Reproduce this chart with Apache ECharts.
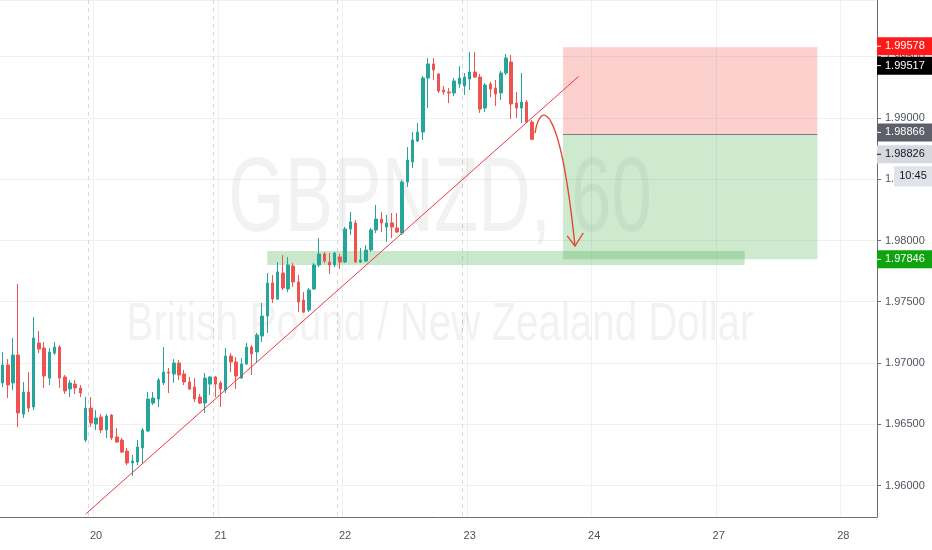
<!DOCTYPE html>
<html lang="en">
<head>
    <meta charset="UTF-8">
    <title>GBPNZD, 60</title>
    <script src="https://cdn.jsdelivr.net/npm/echarts@6/dist/echarts.min.js"></script>
    <style>
        html, body { margin: 0; padding: 0; background: #fff; }
        #main { width: 932px; height: 550px; }
    </style>
</head>
<body>
<div id="main"></div>
<script>
    // hourly slots, weekend removed (24 -> 27 is one day)
    var slotCount = 169;
    var dayIdx = [18, 42, 66, 90, 114, 138, 162];
    var dayLabels = ['20', '21', '22', '23', '24', '27', '28'];
    var sessionIdx = [17, 41, 65, 89];

    // OHLC
    var opens = [1.96837,1.96984,1.96837,1.97065,1.96583,1.96763,1.96641,1.97163,1.97122,1.96877,
        1.97081,1.97130,1.96886,1.96788,1.96828,1.96796,1.96371,1.96632,1.96502,1.96559,
        1.96453,1.96575,1.96396,1.96371,1.96281,1.96184,1.96192,1.96306,1.96445,1.96673,
        1.96706,1.96837,1.96926,1.96910,1.97000,1.96910,1.96845,1.96804,1.96722,1.96673,
        1.96828,1.96886,1.96837,1.96779,1.97057,1.97008,1.96877,1.96992,1.97130,1.97090,
        1.97220,1.97383,1.97653,1.97522,1.97735,1.97604,1.97792,1.97661,1.97514,1.97432,
        1.97604,1.97800,1.97890,1.97824,1.97800,1.97865,1.97824,1.98094,1.98143,1.97824,
        1.97832,1.97922,1.98086,1.98175,1.98110,1.98143,1.98102,1.98061,1.98477,1.98641,
        1.98812,1.98885,1.99326,1.99441,1.99359,1.99228,1.99212,1.99204,1.99277,1.99261,
        1.99318,1.99375,1.99334,1.99081,1.99277,1.99245,1.99204,1.99367,1.99457,1.99122,
        1.99081,1.99130,1.98967];
    var closes = [1.96984,1.96820,1.97065,1.96592,1.96763,1.96632,1.97204,1.97114,1.96894,1.97090,
        1.97130,1.96877,1.96771,1.96837,1.96796,1.96755,1.96632,1.96510,1.96551,1.96453,
        1.96567,1.96388,1.96355,1.96273,1.96184,1.96200,1.96314,1.96453,1.96706,1.96714,
        1.96861,1.96926,1.96918,1.97000,1.96902,1.96845,1.96788,1.96706,1.96673,1.96877,
        1.96886,1.96828,1.96788,1.97057,1.97008,1.96894,1.96992,1.97130,1.97073,1.97228,
        1.97383,1.97653,1.97522,1.97743,1.97612,1.97800,1.97661,1.97498,1.97416,1.97596,
        1.97800,1.97890,1.97832,1.97800,1.97898,1.97824,1.98094,1.98151,1.97824,1.97841,
        1.97922,1.98086,1.98175,1.98143,1.98143,1.98110,1.98069,1.98477,1.98657,1.98820,
        1.98885,1.99326,1.99441,1.99392,1.99220,1.99212,1.99204,1.99302,1.99326,1.99334,
        1.99375,1.99334,1.99073,1.99269,1.99236,1.99196,1.99367,1.99490,1.99114,1.99081,
        1.99130,1.98967,1.98826];
    var lows = [1.96804,1.96714,1.96779,1.96477,1.96551,1.96600,1.96616,1.97081,1.96796,1.96820,
        1.97065,1.96796,1.96747,1.96722,1.96747,1.96722,1.96355,1.96477,1.96453,1.96428,
        1.96388,1.96371,1.96347,1.96265,1.96167,1.96077,1.96167,1.96175,1.96437,1.96657,
        1.96641,1.96820,1.96755,1.96837,1.96861,1.96820,1.96779,1.96681,1.96665,1.96592,
        1.96739,1.96722,1.96641,1.96755,1.96926,1.96788,1.96869,1.96984,1.96902,1.97008,
        1.97171,1.97245,1.97490,1.97514,1.97596,1.97579,1.97620,1.97416,1.97408,1.97416,
        1.97596,1.97783,1.97816,1.97726,1.97783,1.97767,1.97816,1.98045,1.97816,1.97816,
        1.97824,1.97906,1.98061,1.98069,1.97988,1.98020,1.98061,1.98045,1.98437,1.98592,
        1.98804,1.98820,1.99081,1.99310,1.99204,1.99188,1.99122,1.99179,1.99245,1.99188,
        1.99228,1.99326,1.99041,1.99049,1.99171,1.99098,1.99147,1.99351,1.98992,1.99000,
        1.98959,1.98959,1.98820];
    var highs = [1.97090,1.97032,1.97204,1.97645,1.96845,1.96926,1.97375,1.97261,1.97171,1.97122,
        1.97171,1.97147,1.96902,1.96861,1.96861,1.96820,1.96722,1.96722,1.96616,1.96583,
        1.96583,1.96583,1.96469,1.96388,1.96306,1.96249,1.96371,1.96469,1.96763,1.96763,
        1.96877,1.97130,1.96959,1.97032,1.97024,1.96943,1.96886,1.96877,1.96747,1.96918,
        1.96894,1.96894,1.96853,1.97122,1.97081,1.97049,1.97041,1.97163,1.97147,1.97245,
        1.97490,1.97735,1.97718,1.97824,1.97881,1.97865,1.97816,1.97718,1.97579,1.97612,
        1.97816,1.98020,1.97906,1.97898,1.97906,1.97890,1.98110,1.98232,1.98167,1.97939,
        1.97963,1.98102,1.98290,1.98232,1.98208,1.98224,1.98224,1.98494,1.98763,1.98885,
        1.98959,1.99343,1.99490,1.99490,1.99367,1.99261,1.99245,1.99326,1.99424,1.99367,
        1.99539,1.99539,1.99359,1.99285,1.99294,1.99310,1.99383,1.99522,1.99514,1.99212,
        1.99367,1.99147,1.98983];

    // drawings
    var stopPrice = 1.99578;
    var entryPrice = 1.98866;
    var targetPrice = 1.97846;
    var levelPrice = 1.99517;
    var lastPrice = 1.98826;
    var zoneTop = 1.97914, zoneBottom = 1.97800;
    var trendStart = [16, 1.95767], trendEnd = [111, 1.99339];
    var arrowPath = [[102.6, 1.98877], [103.6, 1.99147], [107.4, 1.99147], [110.3, 1.97955]];
    var arrowHead = [[108.8, 1.98037], [110.3, 1.97955], [111.9, 1.98061]];

    var slots = [];
    for (var i = 0; i < slotCount; i++) slots.push('h' + i);
    var candles = opens.map(function (o, k) { return [o, closes[k], lows[k], highs[k]]; });

    function isDay(i) { return dayIdx.indexOf(i) >= 0; }
    var axisColor = '#6a6d78';
    var labelColor = '#50535e';
    var gridColor = '#eef0f4';

    var chart = echarts.init(document.getElementById('main'));
    chart.setOption({
        animation: false,
        backgroundColor: '#ffffff',
        textStyle: { fontFamily: 'Liberation Sans, Arial, sans-serif' },
        grid: { left: 0, right: 55, top: 0, bottom: 33 },
        xAxis: [{
            type: 'category',
            data: slots,
            boundaryGap: true,
            axisLine: { lineStyle: { color: axisColor } },
            axisTick: { alignWithLabel: true, length: 4, interval: isDay, lineStyle: { color: axisColor } },
            axisLabel: {
                interval: isDay, margin: 13, color: labelColor, fontSize: 11,
                formatter: function (v, i) { return dayLabels[dayIdx.indexOf(i)]; }
            },
            splitLine: { show: true, interval: isDay, lineStyle: { color: gridColor } }
        }, {
            type: 'category',
            data: slots,
            position: 'top',
            axisLine: { show: false },
            axisTick: { show: false },
            axisLabel: { show: false },
            splitLine: {
                show: true,
                interval: function (i) { return sessionIdx.indexOf(i) >= 0; },
                lineStyle: { color: '#d5d8df', type: [4, 4] }
            }
        }],
        yAxis: {
            type: 'value',
            position: 'right',
            min: 1.95743,
            max: 1.99963,
            splitNumber: 8,
            axisLine: { show: true, lineStyle: { color: axisColor } },
            axisTick: { show: true, length: 4, lineStyle: { color: axisColor } },
            axisLabel: {
                showMinLabel: false, showMaxLabel: false, margin: 8, color: labelColor, fontSize: 11,
                formatter: function (v) { return v.toFixed(5); }
            },
            splitLine: { lineStyle: { color: gridColor } }
        },
        series: [{
            type: 'candlestick',
            data: candles,
            barWidth: 3,
            itemStyle: {
                color: '#26a69a', color0: '#ef5350',
                borderColor: '#26a69a', borderColor0: '#ef5350', borderWidth: 1
            },
            markLine: {
                silent: true, symbol: 'none', label: { show: false },
                lineStyle: { color: '#4a4d57', width: 1.5, type: 'solid' },
                data: [{ yAxis: levelPrice }]
            }
        }, {
            // position tool, zone and trend line
            type: 'line',
            data: [],
            z: 5,
            markArea: {
                silent: true,
                label: { show: false },
                data: [
                    [{ xAxis: 108, yAxis: stopPrice, itemStyle: { color: 'rgba(244,67,54,0.25)' } }, { xAxis: 157, yAxis: entryPrice }],
                    [{ xAxis: 108, yAxis: entryPrice, itemStyle: { color: 'rgba(76,175,80,0.28)' } }, { xAxis: 157, yAxis: targetPrice }],
                    [{ xAxis: 51, yAxis: zoneTop, itemStyle: { color: 'rgba(76,175,80,0.3)' } }, { xAxis: 143, yAxis: zoneBottom }]
                ]
            },
            markLine: {
                silent: true, symbol: 'none', label: { show: false },
                data: [
                    [{ coord: trendStart, lineStyle: { color: '#f23645', width: 1, type: 'solid' } }, { coord: trendEnd }],
                    [{ coord: [108, entryPrice], lineStyle: { color: '#787b86', width: 1, type: 'solid' } }, { coord: [157, entryPrice] }]
                ]
            }
        }]
    });

    // annotations placed through the chart's own scales
    var x0 = chart.convertToPixel({ xAxisIndex: 0 }, 0);
    var slotW = chart.convertToPixel({ xAxisIndex: 0 }, 1) - x0;
    function px(p) { return [x0 + p[0] * slotW, chart.convertToPixel({ yAxisIndex: 0 }, p[1])]; }
    function yPx(v) { return chart.convertToPixel({ yAxisIndex: 0 }, v); }

    var axisX = 877;
    var tags = [
        { price: stopPrice, dy: -1, bg: '#ff1a1a', fg: '#ffffff' },
        { price: levelPrice, dy: 11, bg: '#000000', fg: '#ffffff' },
        { price: entryPrice, dy: -2, bg: '#5d606b', fg: '#ffffff' },
        { price: lastPrice, dy: 15, bg: '#d6d9df', fg: '#131722' },
        { price: targetPrice, dy: 0, bg: '#10a310', fg: '#ffffff' }
    ];

    var g = [];
    g.push({
        type: 'text', x: 440, y: 202, scaleX: 0.685, z: 0, silent: true,
        style: { text: 'GBPNZD, 60', font: '106px Liberation Sans', fill: 'rgba(19,23,34,0.055)', align: 'center', verticalAlign: 'middle' }
    });
    g.push({
        type: 'text', x: 440, y: 325, scaleX: 0.76, z: 0, silent: true,
        style: { text: 'British Pound / New Zealand Dollar', font: '53px Liberation Sans', fill: 'rgba(19,23,34,0.055)', align: 'center', verticalAlign: 'middle' }
    });

    var a = arrowPath.map(px);
    g.push({
        type: 'bezierCurve', z: 10, silent: true,
        shape: { x1: a[0][0], y1: a[0][1], cpx1: a[1][0], cpy1: a[1][1], cpx2: a[2][0], cpy2: a[2][1], x2: a[3][0], y2: a[3][1] },
        style: { stroke: '#e5412f', lineWidth: 1.3, fill: null }
    });
    g.push({
        type: 'polyline', z: 10, silent: true,
        shape: { points: arrowHead.map(px) },
        style: { stroke: '#e5412f', lineWidth: 1.3, fill: null }
    });

    var lastTagY = 0;
    tags.forEach(function (t) {
        var cy = yPx(t.price) + t.dy;
        if (t.price === lastPrice) lastTagY = cy;
        g.push({ type: 'rect', z: 20, silent: true, shape: { x: axisX, y: cy - 9, width: 932 - axisX, height: 18 }, style: { fill: t.bg } });
        g.push({ type: 'line', z: 21, silent: true, shape: { x1: axisX, y1: cy, x2: axisX + 4, y2: cy }, style: { stroke: t.fg, lineWidth: 1 } });
        g.push({
            type: 'text', z: 21, silent: true, x: axisX + 8, y: cy,
            style: { text: t.price.toFixed(5), font: '11px Liberation Sans', fill: t.fg, verticalAlign: 'middle' }
        });
    });
    // countdown box under the last price
    g.push({ type: 'rect', z: 20, silent: true, shape: { x: 894, y: lastTagY + 12, width: 38, height: 20 }, style: { fill: '#e0e3ea' } });
    g.push({
        type: 'text', z: 21, silent: true, x: 913, y: lastTagY + 22,
        style: { text: '10:45', font: '11px Liberation Sans', fill: '#131722', align: 'center', verticalAlign: 'middle' }
    });

    chart.setOption({ graphic: g });
</script>
</body>
</html>
